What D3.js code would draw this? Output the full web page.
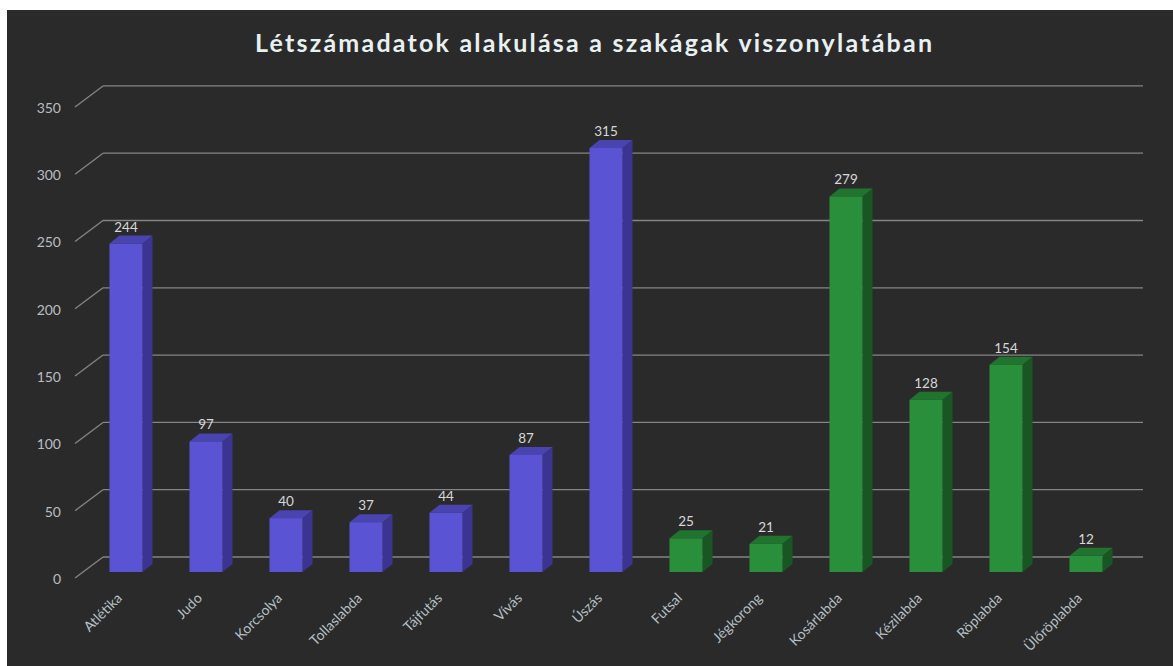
<!DOCTYPE html>
<html>
<head>
<meta charset="utf-8">
<script src="https://cdn.jsdelivr.net/npm/d3@7"></script>
<style>
  html, body { margin: 0; padding: 0; background: #ffffff; }
  svg { display: block; }
</style>
</head>
<body>
<svg id="chart" width="1173" height="666"></svg>
<script>
const title = "Létszámadatok alakulása a szakágak viszonylatában";
const categories = ["Atlétika", "Judo", "Korcsolya", "Tollaslabda", "Tájfutás", "Vívás", "Úszás",
                    "Futsal", "Jégkorong", "Kosárlabda", "Kézilabda", "Röplabda", "Ülőröplabda"];
const values = [244, 97, 40, 37, 44, 87, 315, 25, 21, 279, 128, 154, 12];
const groups = ["egyéni", "egyéni", "egyéni", "egyéni", "egyéni", "egyéni", "egyéni",
                "csapat", "csapat", "csapat", "csapat", "csapat", "csapat"];
const yTicks = [0, 50, 100, 150, 200, 250, 300, 350];

const svg = d3.select("#chart");
const W = 1173, H = 666;

// background
svg.append("rect").attr("x", 0).attr("y", 0).attr("width", W).attr("height", H).attr("fill", "#ffffff");
svg.append("rect").attr("x", 7).attr("y", 10).attr("width", W - 7).attr("height", H - 10).attr("fill", "#2b2a2a");

// 3D offsets
const wallDx = 17, wallDy = -15;     // back wall relative to bar front plane
const tickDx = -28, tickDy = 21;     // floor diagonal from back wall to front edge
const depthDx = 10, depthDy = -8;    // bar depth

const x = d3.scaleBand().domain(categories).range([86, 1126]).paddingInner(0.5875).paddingOuter(0.29375);
const y = d3.scaleLinear().domain([0, 350]).range([572, 100.9]);

const palette = {
  "egyéni": { front: "#5a54d4", side: "#3b3490", top: "#4a44b0" },
  "csapat": { front: "#2a8f3a", side: "#1a5624", top: "#217430" }
};

// gridlines (back wall) with diagonal floor ticks
const grid = svg.append("g");
yTicks.forEach(t => {
  const gy = y(t) + wallDy;
  const gx0 = x.range()[0] + wallDx;
  const gx1 = x.range()[1] + wallDx;
  grid.append("line").attr("x1", gx0).attr("x2", gx1).attr("y1", gy).attr("y2", gy)
    .attr("stroke", "#858585").attr("stroke-width", 1.3);
  grid.append("line").attr("x1", gx0).attr("y1", gy).attr("x2", gx0 + tickDx).attr("y2", gy + tickDy)
    .attr("stroke", "#858585").attr("stroke-width", 1.3);
  grid.append("text").attr("x", 61).attr("y", gy + tickDy + 1).attr("dy", "0.35em")
    .attr("text-anchor", "end").attr("fill", "#b9bdc2")
    .attr("font-family", "Lato, 'Open Sans', sans-serif").attr("font-size", 14)
    .text(t);
});

// bars
const bars = svg.append("g");
categories.forEach((c, i) => {
  const v = values[i];
  const col = palette[groups[i]];
  const x0 = x(c), x1 = x(c) + x.bandwidth();
  const yt = y(v), yb = y(0);
  bars.append("path")
    .attr("d", `M${x1},${yt} L${x1 + depthDx},${yt + depthDy} L${x1 + depthDx},${yb + depthDy} L${x1},${yb} Z`)
    .attr("fill", col.side);
  bars.append("path")
    .attr("d", `M${x0},${yt} L${x0 + depthDx},${yt + depthDy} L${x1 + depthDx},${yt + depthDy} L${x1},${yt} Z`)
    .attr("fill", col.top);
  bars.append("rect").attr("x", x0).attr("y", yt).attr("width", x.bandwidth()).attr("height", yb - yt)
    .attr("fill", col.front);
  bars.append("text").attr("x", x0 + x.bandwidth() / 2).attr("y", yt + depthDy - 4)
    .attr("text-anchor", "middle").attr("fill", "#d6d8da")
    .attr("font-family", "Lato, 'Open Sans', sans-serif").attr("font-size", 13.5)
    .text(v);
  const lx = x0 + x.bandwidth() / 2 - 3, ly = 599;
  bars.append("text").attr("transform", `translate(${lx},${ly}) rotate(-45)`)
    .attr("text-anchor", "end").attr("fill", "#b5c0c6")
    .attr("font-family", "Lato, 'Open Sans', sans-serif").attr("font-size", 14)
    .text(c);
});

// title
svg.append("text").attr("x", 593.5).attr("y", 52).attr("text-anchor", "middle")
  .attr("fill", "#e8f0f2").attr("font-family", "Lato, 'Open Sans', sans-serif")
  .attr("font-weight", "bold").attr("font-size", 25)
  .attr("textLength", 677).attr("lengthAdjust", "spacing")
  .text(title);
</script>
</body>
</html>
